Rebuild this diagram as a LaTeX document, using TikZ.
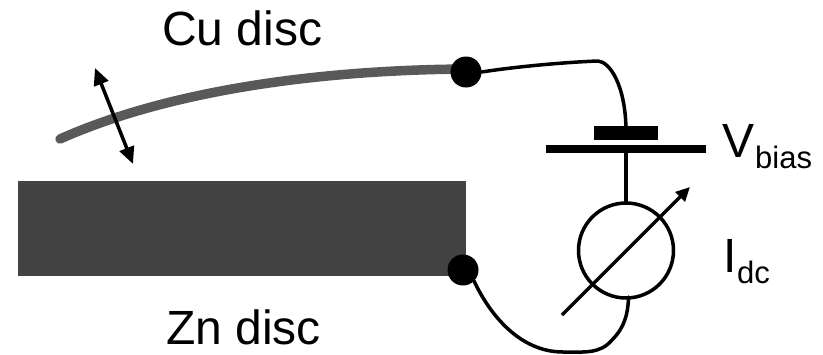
\documentclass[tikz,border=0pt]{standalone}
\usepackage{fontspec}
\setmainfont{Liberation Sans}
\usetikzlibrary{arrows.meta}
\definecolor{zncol}{HTML}{434343}
\definecolor{cucol}{HTML}{595959}
\newcommand{\bigtxt}{\fontsize{48}{52}\selectfont}
\newcommand{\subtxt}{\fontsize{31}{34}\selectfont}
\tikzset{
  lbl/.style={inner sep=0pt,anchor=base west},
  wire/.style={line width=3.5pt,black,line cap=round,line join=round},
  joint/.style={circle,fill=black,inner sep=0pt,minimum size=31pt},
  plate/.style={fill=black,inner sep=0pt},
}
\begin{document}
\begin{tikzpicture}[x=1pt,y=-1pt]
\useasboundingbox (0,0) rectangle (823,354);
\node[fill=zncol,inner sep=0pt,minimum width=448pt,minimum height=95pt] (zn) at (242,228.5) {};
\coordinate (cuend) at (60,139);
\coordinate (cutip) at (466,69);
\draw[cucol,line width=9.5pt,line cap=round] (cuend) .. controls (170,90) and (320,70) .. (cutip);
\coordinate (swa) at (95,68);
\coordinate (swb) at (133,164);
\draw[line width=3.5pt,{Triangle[length=17pt,width=15pt]}-{Triangle[length=17pt,width=15pt]}] (swa) -- (swb);
\node[joint] (cudot) at (466,72) {};
\node[joint] (zndot) at (463,270) {};
\node[plate,minimum width=64pt,minimum height=13.5pt] (small) at (626,132.75) {};
\node[plate,minimum width=160pt,minimum height=8pt] (big) at (626,149) {};
\node[circle,draw=black,line width=3.5pt,inner sep=0pt,minimum size=95pt] (meter) at (626,250.5) {};
\draw[wire] (cudot.east) .. controls (520,66) and (570,62) .. (598,61) .. controls (610,62) and (625,85) .. (626,128);
\draw[wire] (big.center) -- (meter.north);
\draw[wire] (zndot.south east) .. controls (490,315) and (520,352) .. (563,352) .. controls (585,352) and (600,354) .. (612,340) .. controls (624,328) and (628,315) .. (628.5,297);
\coordinate (va) at (562,315);
\coordinate (vb) at (690,187);
\draw[line width=3.5pt,-{Triangle[length=14pt,width=13pt]}] (va) -- (vb);
\node[lbl] (cu) at (162,45) {\bigtxt Cu disc};
\node[lbl] (znl) at (166,344) {\bigtxt Zn disc};
\node[lbl] (v) at (722,157) {\bigtxt V};
\node[lbl] (bias) at (755,168) {\subtxt bias};
\node[lbl] (i) at (723,272) {\bigtxt I};
\node[lbl] (dc) at (737,283) {\subtxt dc};
\end{tikzpicture}
\end{document}
